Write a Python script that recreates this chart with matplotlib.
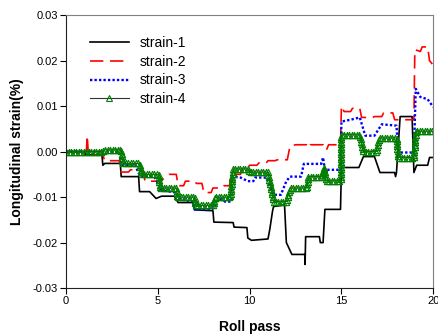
import matplotlib

matplotlib.use("Agg")
import matplotlib.pyplot as plt
import numpy as np
from matplotlib.lines import Line2D
from matplotlib.markers import MarkerStyle
from matplotlib.path import Path
from matplotlib.patheffects import AbstractPathEffect
from matplotlib.transforms import Affine2D, IdentityTransform

plt.rcParams["font.family"] = ["Liberation Sans", "DejaVu Sans"]

# breakpoints (roll pass, strain %)
s1_x = [0, 1.0, 1.05, 1.95, 2.0, 2.1, 2.95, 3.0, 3.95, 4.0, 4.55, 4.9, 5.2, 5.9,
        6.1, 6.9, 7.0, 8.0, 8.05, 9.1, 9.15, 9.85, 9.9, 10.1, 11.0, 11.1, 11.25,
        11.3, 11.9, 12.0, 12.3, 13.0, 13.02, 13.05, 13.8, 13.85, 14.0, 14.1,
        14.95, 15.0, 15.95, 16.2, 16.8, 17.1, 17.9, 17.95, 18.0, 18.2, 18.85,
        18.95, 19.1, 19.7, 19.8, 20.0]
s1_y = [0, 0, -0.0007, -0.0007, -0.003, -0.0026, -0.0026, -0.0055, -0.0055,
        -0.0088, -0.0088, -0.0103, -0.0098, -0.0098, -0.0112, -0.0112, -0.0128,
        -0.013, -0.0155, -0.0156, -0.0166, -0.0167, -0.019, -0.0195, -0.0192,
        -0.017, -0.013, -0.0121, -0.0117, -0.020, -0.0226, -0.0226, -0.0248,
        -0.0187, -0.0187, -0.020, -0.020, -0.0127, -0.0127, -0.0035, -0.0035,
        -0.0011, -0.0011, -0.0046, -0.0046, -0.0055, -0.0046, 0.0077, 0.0077,
        -0.0046, -0.003, -0.003, -0.0013, -0.0013]

s2_x = [0, 1.1, 1.15, 1.2, 1.3, 2.0, 2.1, 2.9, 3.0, 3.4, 3.5, 4.0, 4.2, 4.3,
        5.0, 5.3, 5.6, 6.0, 6.1, 6.4, 6.5, 7.0, 7.1, 7.4, 7.5, 7.9, 8.0, 8.5,
        8.6, 8.9, 9.0, 9.5, 9.6, 9.9, 10.0, 10.4, 10.5, 10.9, 11.0, 11.4, 11.5,
        12.05, 12.2, 12.5, 13.1, 13.2, 13.3, 14.0, 14.05, 14.2, 14.3, 14.95,
        15.0, 15.15, 15.5, 15.6, 16.0, 16.1, 16.7, 16.8, 17.2, 17.3, 17.8,
        17.9, 18.95, 19.0, 19.3, 19.4, 19.7, 19.8, 20.0]
s2_y = [0, 0, 0.0035, 0, -0.0007, -0.0007, -0.002, -0.002, -0.0045, -0.0045,
        -0.004, -0.004, -0.0045, -0.0065, -0.0065, -0.006, -0.005, -0.005,
        -0.0075, -0.0075, -0.0065, -0.0065, -0.007, -0.007, -0.009, -0.009,
        -0.008, -0.008, -0.0075, -0.0075, -0.005, -0.005, -0.0035, -0.0035,
        -0.003, -0.003, -0.0025, -0.0025, -0.002, -0.002, -0.0018, -0.0018,
        0.0012, 0.0015, 0.0015, 0.0008, 0.0015, 0.0015, 0.0005, 0.0005, 0.0015,
        0.0015, 0.010, 0.0088, 0.0088, 0.0095, 0.0095, 0.0075, 0.0075, 0.0077,
        0.0077, 0.0085, 0.0085, 0.007, 0.007, 0.0224, 0.022, 0.023, 0.023,
        0.020, 0.019]

s3_x = [0, 2.9, 3.0, 3.8, 3.9, 4.1, 4.8, 5.0, 5.2, 6.0, 6.2, 6.9, 7.0, 7.95,
        8.1, 8.3, 8.5, 8.65, 9.0, 9.05, 9.5, 9.9, 10.2, 10.3, 10.9, 11.2, 11.3,
        11.7, 12.0, 12.2, 12.8, 12.95, 13.9, 14.0, 14.1, 14.95, 15.0, 15.5,
        16.0, 16.3, 16.8, 17.2, 18.0, 18.1, 18.95, 19.05, 19.3, 19.7, 20.0]
s3_y = [0, 0, -0.003, -0.003, -0.0045, -0.0055, -0.0055, -0.007, -0.0085,
        -0.009, -0.0105, -0.011, -0.0127, -0.0127, -0.012, -0.0105, -0.0105,
        -0.011, -0.011, -0.0055, -0.0057, -0.0065, -0.0065, -0.0057, -0.0057,
        -0.0085, -0.0095, -0.0095, -0.0065, -0.0055, -0.0055, -0.0027,
        -0.0027, -0.0013, -0.004, -0.004, 0.0066, 0.007, 0.0075, 0.0035,
        0.0035, 0.006, 0.0057, -0.0002, -0.0002, 0.0138, 0.012, 0.0115, 0.0098]

s4_x = [0, 2.0, 2.1, 3.0, 3.1, 4.0, 4.1, 5.05, 5.1, 6.0, 6.05, 7.0, 7.05, 8.05,
        8.1, 8.95, 9.1, 9.95, 10.0, 11.0, 11.3, 12.0, 12.2, 13.1, 13.2, 13.95,
        14.05, 14.15, 14.95, 15.0, 16.0, 16.2, 16.9, 17.05, 18.0, 18.1, 18.95,
        19.05, 20.0]
s4_y = [0, 0, 0.0004, 0.0004, -0.0026, -0.0026, -0.005, -0.005, -0.008, -0.008,
        -0.010, -0.010, -0.0118, -0.0118, -0.010, -0.010, -0.0038, -0.0038,
        -0.0045, -0.0045, -0.011, -0.011, -0.008, -0.008, -0.0055, -0.0055,
        -0.0035, -0.0064, -0.0064, 0.0037, 0.0037, 0.0, 0.0, 0.003, 0.003,
        -0.0013, -0.0013, 0.0045, 0.0045]

GREEN = "#008000"


class TrianglesAlong(AbstractPathEffect):
    """Draw the line, then open triangles at a fixed screen spacing along it
    (the original logger output was dense enough that markers overlap)."""

    def __init__(self, spacing=2.0, size=4.5, color=GREEN, width=0.8):
        super().__init__()
        self.spacing, self.size = spacing, size
        self.color, self.width = color, width

    def draw_path(self, renderer, gc, tpath, affine, rgbFace=None):
        renderer.draw_path(gc, tpath, affine, rgbFace)
        xy = affine.transform(tpath.vertices)
        run = np.concatenate([[0], np.cumsum(np.hypot(*np.diff(xy, axis=0).T))])
        at = np.arange(0, run[-1], renderer.points_to_pixels(self.spacing))
        pts = np.column_stack([np.interp(at, run, xy[:, 0]),
                               np.interp(at, run, xy[:, 1])])
        style = MarkerStyle("^")
        mtrans = style.get_transform() + Affine2D().scale(
            renderer.points_to_pixels(self.size))
        gc0 = renderer.new_gc()
        gc0.copy_properties(gc)
        gc0.set_foreground(self.color)
        gc0.set_linewidth(self.width)
        gc0.set_dashes(0, None)
        renderer.draw_markers(gc0, style.get_path(), mtrans, Path(pts),
                              IdentityTransform(), None)
        gc0.restore()


fig = plt.figure(figsize=(4.38, 3.35), dpi=100)
ax = fig.add_axes([0.151, 0.140, 0.838, 0.815])

ax.plot(s1_x, s1_y, color="black", lw=1.2)
ax.plot(s2_x, s2_y, color="red", lw=1.2, ls=(0, (8, 4)))
ax.plot(s3_x, s3_y, color="blue", lw=1.7, ls=(0, (1, 0.9)))
ax.plot(s4_x, s4_y, color="#333333", lw=0.8,
        path_effects=[TrianglesAlong(spacing=1.8, size=4.5)])

ax.set_xlim(0, 20)
ax.set_ylim(-0.03, 0.03)
ax.set_xticks([0, 5, 10, 15, 20])
ax.set_yticks([-0.03, -0.02, -0.01, 0.0, 0.01, 0.02, 0.03])
ax.set_yticklabels(["-0.03", "-0.02", "-0.01", "0.00", "0.01", "0.02", "0.03"])
ax.tick_params(labelsize=8, direction="out", length=4, pad=2,
               top=False, right=False)

for side in ("top", "right"):
    ax.spines[side].set_color("#808080")
for side in ("left", "bottom"):
    ax.spines[side].set_color("#222222")

ax.set_xlabel("Roll pass", fontsize=10, fontweight="bold", labelpad=10)
ax.set_ylabel("Longitudinal strain(%)", fontsize=10, fontweight="bold", labelpad=6)

handles = [
    Line2D([], [], color="black", lw=1.2),
    Line2D([], [], color="red", lw=1.2, ls=(0, (8, 4))),
    Line2D([], [], color="blue", lw=1.7, ls=(0, (1, 0.9))),
    Line2D([], [], color="#333333", lw=0.8, marker="^", ms=4.5,
           mfc="none", mec=GREEN, mew=0.8),
]
ax.legend(handles, ["strain-1", "strain-2", "strain-3", "strain-4"],
          loc="upper left", bbox_to_anchor=(0.03, 0.97), frameon=False,
          fontsize=10, handlelength=2.8, labelspacing=0.35, handletextpad=0.8)

fig.savefig("out.png", dpi=100)
